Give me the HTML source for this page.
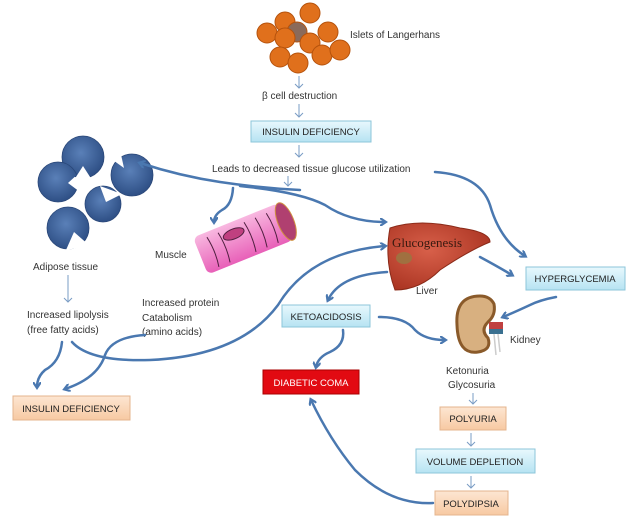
<!DOCTYPE html>
<html><head><meta charset="utf-8"><style>
html,body{margin:0;padding:0;background:#fff;}
svg{display:block;font-family:"Liberation Sans",sans-serif;}
.t{font-size:10px;fill:#333;}
.b{font-size:9.5px;fill:#222;}
.c{fill:none;stroke:#4a78b0;stroke-width:2.5;stroke-linecap:round;}
.s{fill:none;stroke:#7a9cc4;stroke-width:1;}
</style></head><body>
<svg width="633" height="525" viewBox="0 0 633 525">
<defs>
<marker id="a" markerWidth="8" markerHeight="8" refX="5" refY="4" orient="auto" markerUnits="userSpaceOnUse"><path d="M0,0 L6,4 L0,8" fill="none" stroke="#4a78b0" stroke-width="2.2"/></marker>
<linearGradient id="bl" x1="0" y1="0" x2="0" y2="1"><stop offset="0" stop-color="#e8f8fd"/><stop offset="1" stop-color="#b6e3f2"/></linearGradient>
<linearGradient id="or" x1="0" y1="0" x2="0" y2="1"><stop offset="0" stop-color="#fde6d2"/><stop offset="1" stop-color="#f7c9a2"/></linearGradient>
<linearGradient id="mu" x1="0" y1="0" x2="0" y2="1"><stop offset="0" stop-color="#f8b8e0"/><stop offset="1" stop-color="#e860b8"/></linearGradient>
<radialGradient id="lv" cx="0.4" cy="0.4" r="0.7"><stop offset="0" stop-color="#d8604a"/><stop offset="1" stop-color="#a83220"/></radialGradient>
<radialGradient id="fat" cx="0.45" cy="0.4" r="0.6"><stop offset="0" stop-color="#5a80b8"/><stop offset="1" stop-color="#2e4f85"/></radialGradient>
<mask id="m1"><rect width="633" height="525" fill="#fff"/><path d="M74,180 L83,166 L92,180 Z" fill="#000"/></mask>
<mask id="m2"><rect width="633" height="525" fill="#fff"/><path d="M80,172 L68,183 L80,192 Z" fill="#000"/></mask>
<mask id="m3"><rect width="633" height="525" fill="#fff"/><path d="M110,158 L124,168 L120,150 Z" fill="#000"/></mask>
<mask id="m4"><rect width="633" height="525" fill="#fff"/><path d="M100,186 L106,202 L122,194 Z" fill="#000"/></mask>
<mask id="m5"><rect width="633" height="525" fill="#fff"/><path d="M66,250 L74,232 L90,246 Z" fill="#000"/></mask>
</defs>

<!-- islets -->
<g fill="#e0701c" stroke="#b5520c" stroke-width="1">
<circle cx="267" cy="33" r="10"/><circle cx="285" cy="22" r="10"/><circle cx="310" cy="13" r="10"/>
<circle cx="297" cy="32" r="10" fill="#8a6a5a"/><circle cx="328" cy="32" r="10"/><circle cx="285" cy="38" r="10"/>
<circle cx="310" cy="43" r="10"/><circle cx="322" cy="55" r="10"/><circle cx="340" cy="50" r="10"/>
<circle cx="280" cy="57" r="10"/><circle cx="298" cy="63" r="10"/></g>
<text class="t" x="350" y="38">Islets of Langerhans</text>

<line class="s" x1="299" y1="76" x2="299" y2="88"/><path class="s" d="M295,84 L299,88 L303,84"/>
<text class="t" x="262" y="99">β cell destruction</text>
<line class="s" x1="299" y1="104" x2="299" y2="117"/><path class="s" d="M295,113 L299,117 L303,113"/>
<rect x="251" y="121" width="120" height="21" fill="url(#bl)" stroke="#8cc6da"/>
<text class="b" x="311" y="135" text-anchor="middle">INSULIN DEFICIENCY</text>
<line class="s" x1="299" y1="145" x2="299" y2="157"/><path class="s" d="M295,153 L299,157 L303,153"/>
<text class="t" x="212" y="172">Leads to decreased tissue glucose utilization</text>
<line class="s" x1="288" y1="176" x2="288" y2="186"/><path class="s" d="M284,182 L288,186 L292,182"/>

<!-- adipose -->
<g fill="url(#fat)" stroke="#2a4778" stroke-width="0.8">
<circle cx="83" cy="157" r="21" mask="url(#m1)"/>
<circle cx="58" cy="182" r="20" mask="url(#m2)"/>
<circle cx="132" cy="175" r="21" mask="url(#m3)"/>
<circle cx="103" cy="204" r="18" mask="url(#m4)"/>
<circle cx="68" cy="228" r="21" mask="url(#m5)"/>
</g>
<text class="t" x="33" y="270">Adipose tissue</text>
<line class="s" x1="68" y1="275" x2="68" y2="302"/><path class="s" d="M64,298 L68,302 L72,298"/>
<text class="t" x="27" y="318">Increased lipolysis</text>
<text class="t" x="27" y="333">(free fatty acids)</text>
<text class="t" x="142" y="306">Increased protein</text>
<text class="t" x="142" y="321">Catabolism</text>
<text class="t" x="142" y="335">(amino acids)</text>
<rect x="13" y="396" width="117" height="24" fill="url(#or)" stroke="#e4b48e"/>
<text class="b" x="71" y="412" text-anchor="middle">INSULIN DEFICIENCY</text>

<!-- muscle -->
<g transform="rotate(-22 245 238)">
<rect x="197" y="218" width="92" height="40" rx="6" fill="url(#mu)"/>
<ellipse cx="289" cy="238" rx="8" ry="20" fill="#b04070" stroke="#d09040"/>
<ellipse cx="236" cy="230" rx="11" ry="5" fill="#c04080" stroke="#502040"/>
<g stroke="#502040" fill="none" stroke-width="1"><path d="M210,223 q3,16 0,32"/><path d="M222,223 q3,16 0,32"/><path d="M250,223 q3,16 0,32"/><path d="M262,223 q3,16 0,32"/><path d="M274,223 q3,16 0,32"/></g>
</g>
<text class="t" x="155" y="258">Muscle</text>

<!-- liver -->
<path d="M390,228 Q420,218 460,228 Q490,232 490,242 Q470,250 440,270 Q420,290 395,290 Q384,260 390,228 Z" fill="url(#lv)" stroke="#8a2a18"/>
<ellipse cx="404" cy="258" rx="8" ry="6" fill="#a07040"/>
<text x="392" y="247" font-family="Liberation Serif,serif" font-size="13" fill="#3a1a10">Glucogenesis</text>
<text class="t" x="416" y="294">Liver</text>

<rect x="526" y="267" width="99" height="23" fill="url(#bl)" stroke="#8cc6da"/>
<text class="b" x="575" y="282" text-anchor="middle">HYPERGLYCEMIA</text>
<rect x="282" y="305" width="88" height="22" fill="url(#bl)" stroke="#8cc6da"/>
<text class="b" x="326" y="320" text-anchor="middle">KETOACIDOSIS</text>

<!-- kidney -->
<path d="M480,296 Q455,296 457,325 Q458,355 478,352 Q492,350 488,338 Q480,330 488,322 Q496,315 494,304 Q490,296 480,296 Z" fill="#d8b080" stroke="#8a5a2a" stroke-width="3"/>
<rect x="489" y="322" width="14" height="7" fill="#c04040"/><rect x="489" y="329" width="14" height="5" fill="#3a7090"/>
<path d="M494,334 L496,355 M498,334 L500,352" stroke="#ccc" stroke-width="1.5"/>
<text class="t" x="510" y="343">Kidney</text>
<text class="t" x="446" y="374">Ketonuria</text>
<text class="t" x="448" y="388">Glycosuria</text>
<line class="s" x1="473" y1="393" x2="473" y2="404"/><path class="s" d="M469,400 L473,404 L477,400"/>
<rect x="440" y="407" width="66" height="23" fill="url(#or)" stroke="#e4b48e"/>
<text class="b" x="473" y="422" text-anchor="middle">POLYURIA</text>
<line class="s" x1="471" y1="433" x2="471" y2="446"/><path class="s" d="M467,442 L471,446 L475,442"/>
<rect x="416" y="449" width="119" height="24" fill="url(#bl)" stroke="#8cc6da"/>
<text class="b" x="475" y="465" text-anchor="middle">VOLUME DEPLETION</text>
<line class="s" x1="471" y1="476" x2="471" y2="488"/><path class="s" d="M467,484 L471,488 L475,484"/>
<rect x="435" y="491" width="73" height="24" fill="url(#or)" stroke="#e4b48e"/>
<text class="b" x="471" y="507" text-anchor="middle">POLYDIPSIA</text>

<rect x="263" y="370" width="96" height="24" fill="#e20a12" stroke="#a00"/>
<text x="311" y="386" text-anchor="middle" font-size="9.5" fill="#fff">DIABETIC COMA</text>

<!-- curved connectors -->
<g class="c" marker-end="url(#a)">
<path d="M300,190 Q260,188 220,182 Q180,176 140,163"/>
<path d="M240,186 Q300,192 325,205 Q350,222 385,222" />
<path d="M233,188 Q232,205 222,210 Q214,215 214,222"/>
<path d="M435,172 Q480,175 490,205 Q500,240 525,256"/>
<path d="M72,342 Q90,362 150,360 Q240,356 278,305 Q310,252 385,246"/>
<path d="M62,342 Q60,362 45,370 Q37,377 37,387"/>
<path d="M145,335 Q112,337 105,355 Q98,378 65,389"/>
<path d="M387,272 Q340,275 328,300"/>
<path d="M480,257 Q495,265 512,275"/>
<path d="M556,297 Q540,300 530,305 Q515,312 503,317"/>
<path d="M379,317 Q405,317 415,330 Q425,340 445,340"/>
<path d="M343,330 Q345,345 330,352 Q318,357 316,367"/>
<path d="M433,503 Q390,505 355,470 Q330,440 311,400"/>
</g>
</svg>
</body></html>
